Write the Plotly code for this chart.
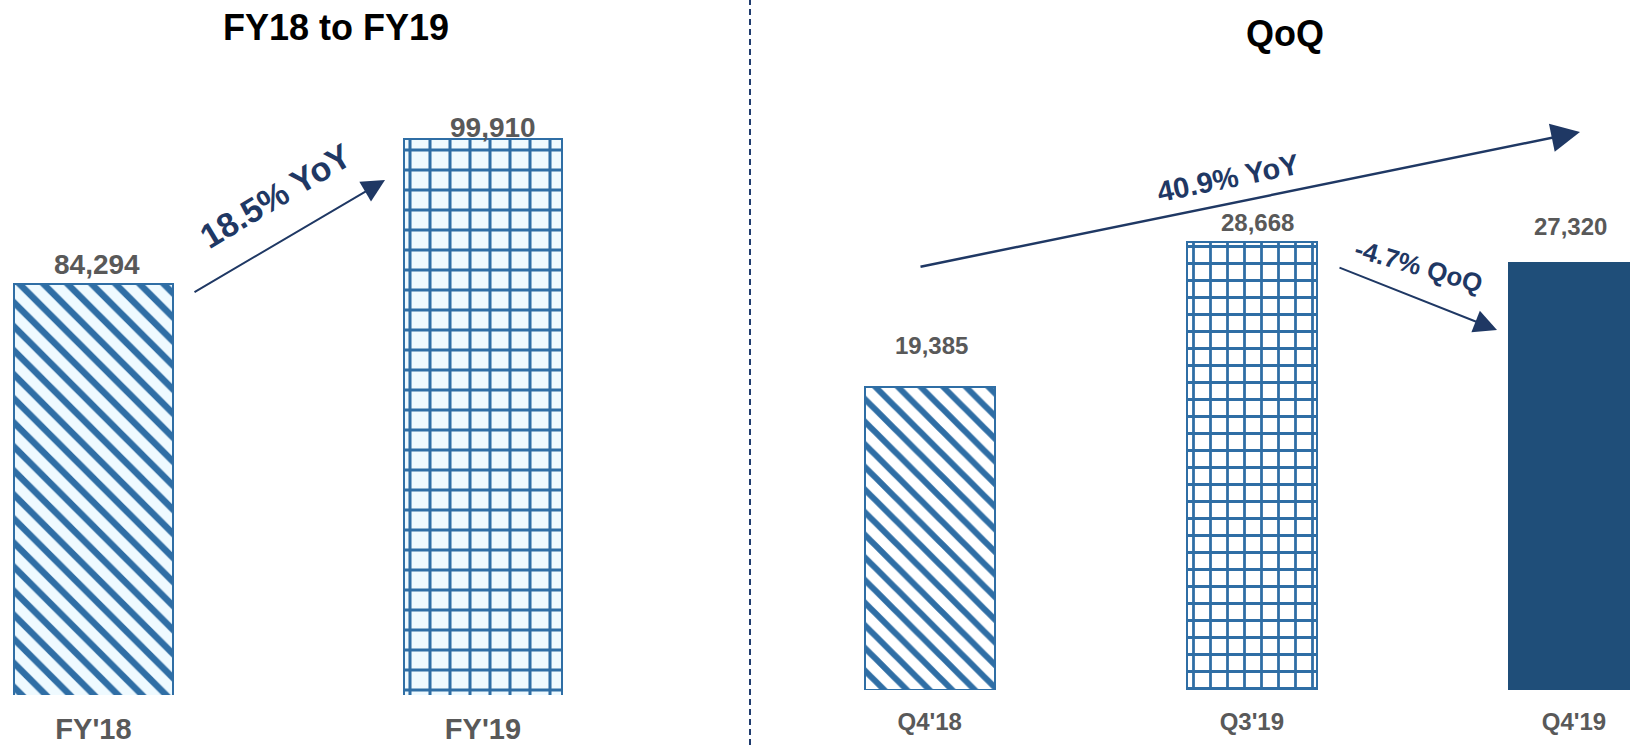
import plotly.graph_objects as go

# Annual comparison
fy_categories = ["FY'18", "FY'19"]
fy_values = [84294, 99910]

# Quarterly comparison
q_categories = ["Q4'18", "Q3'19", "Q4'19"]
q_values = [19385, 28668, 27320]

# Growth call-outs
fy_growth_text = "18.5% YoY"
q_yoy_text = "40.9% YoY"
q_qoq_text = "-4.7% QoQ"

W, H = 1630, 745
STRIPE = "#2f6ea5"
PALE = "#effaff"
NAVY = "#1f4e79"
ARROW = "#1f3864"
GREY = "#595959"
FONT = "Liberation Sans, Arial, sans-serif"


def px(x):
    return x / W


def py(y):
    return 1 - y / H


fig = go.Figure()

fig.add_trace(go.Bar(
    x=fy_categories, y=fy_values, width=0.406,
    xaxis="x", yaxis="y",
    marker=dict(
        color=STRIPE,
        line=dict(color=STRIPE, width=2),
        pattern=dict(shape=["\\", "+"], size=[17, 20], solidity=[0.38, 0.28],
                     fgcolor=STRIPE, bgcolor=PALE, fgopacity=1, fillmode="replace"),
    ),
    hoverinfo="skip", showlegend=False,
))

fig.add_trace(go.Bar(
    x=q_categories, y=q_values, width=0.405,
    xaxis="x2", yaxis="y2",
    marker=dict(
        color=[STRIPE, STRIPE, NAVY],
        line=dict(color=[STRIPE, STRIPE, NAVY], width=2),
        pattern=dict(shape=["\\", "+", ""], size=[16, 17, 10], solidity=[0.38, 0.3, 0.3],
                     fgcolor=[STRIPE, STRIPE, NAVY], bgcolor=[PALE, PALE, NAVY],
                     fgopacity=1, fillmode="replace"),
    ),
    hoverinfo="skip", showlegend=False,
))

# value labels above the bars (offsets in px)
fy_label_shift = [19, 11]
fy_label_dx = [4, 10]
q_label_shift = [42, 20, 37]
q_label_dx = [2, 6, -3]

annotations = []
for i, (c, v) in enumerate(zip(fy_categories, fy_values)):
    annotations.append(dict(
        x=c, y=v, xref="x", yref="y", text=f"{v:,}", showarrow=False,
        xanchor="center", yanchor="middle", yshift=fy_label_shift[i], xshift=fy_label_dx[i],
        font=dict(family=FONT, size=28, color=GREY, weight="bold"),
    ))
for i, (c, v) in enumerate(zip(q_categories, q_values)):
    annotations.append(dict(
        x=c, y=v, xref="x2", yref="y2", text=f"{v:,}", showarrow=False,
        xanchor="center", yanchor="middle", yshift=q_label_shift[i], xshift=q_label_dx[i],
        font=dict(family=FONT, size=24, color=GREY, weight="bold"),
    ))

# panel titles
annotations.append(dict(x=px(336), y=py(27), xref="paper", yref="paper", text="FY18 to FY19",
                        showarrow=False, xanchor="center", yanchor="middle",
                        font=dict(family=FONT, size=36, color="black", weight="bold")))
annotations.append(dict(x=px(1285), y=py(34), xref="paper", yref="paper", text="QoQ",
                        showarrow=False, xanchor="center", yanchor="middle",
                        font=dict(family=FONT, size=36, color="black", weight="bold")))

# growth arrows
for head, tail, lw in [((385, 180), (193, 293), 2),
                       ((1580, 132), (919, 267), 2.5),
                       ((1497, 330), (1338, 267), 2)]:
    annotations.append(dict(
        x=px(head[0]), y=py(head[1]), xref="paper", yref="paper",
        ax=tail[0] - head[0], ay=tail[1] - head[1], axref="pixel", ayref="pixel",
        text="", showarrow=True, arrowhead=2, arrowsize=2.3, arrowwidth=lw,
        arrowcolor=ARROW, standoff=0, startstandoff=0,
    ))

# growth call-out text
for txt, (cx, cy), ang, sz in [(fy_growth_text, (275, 196), -31, 34),
                               (q_yoy_text, (1228, 178), -11.5, 29),
                               (q_qoq_text, (1418, 266), 16, 26)]:
    annotations.append(dict(
        x=px(cx), y=py(cy), xref="paper", yref="paper", text=txt, showarrow=False,
        textangle=ang, xanchor="center", yanchor="middle",
        font=dict(family=FONT, size=sz, color=ARROW, weight="bold"),
    ))

# vertical scales (px per unit)
fy_scale = 145 / (fy_values[1] - fy_values[0])
fy_base = 40000
q_scale = 0.01562

fig.update_layout(
    width=W, height=H,
    margin=dict(l=0, r=0, t=0, b=0),
    paper_bgcolor="white", plot_bgcolor="white",
    xaxis=dict(domain=[0, px(740)], type="category", range=[-0.240, 1.660],
               showgrid=False, zeroline=False, showline=False, ticks="",
               tickfont=dict(family=FONT, size=29, color=GREY, weight="bold"),
               ticklabelstandoff=14, anchor="y", fixedrange=True),
    yaxis=dict(domain=[(H - 695) / H, 1], range=[fy_base, fy_base + 695 / fy_scale],
               visible=False, anchor="x", fixedrange=True),
    xaxis2=dict(domain=[px(760), 1], type="category", range=[-0.527, 2.174],
                showgrid=False, zeroline=False, showline=False, ticks="",
                tickfont=dict(family=FONT, size=24, color=GREY, weight="bold"),
                ticklabelstandoff=15, anchor="y2", fixedrange=True),
    yaxis2=dict(domain=[(H - 690) / H, 1], range=[0, 690 / q_scale],
                visible=False, anchor="x2", fixedrange=True),
    annotations=annotations,
    shapes=[dict(type="line", xref="paper", yref="paper", x0=px(750), x1=px(750), y0=0, y1=1,
                 line=dict(color="#1f3c6e", width=2, dash="6px,4px"))],
    bargap=0,
)

fig.write_html("out.html")
